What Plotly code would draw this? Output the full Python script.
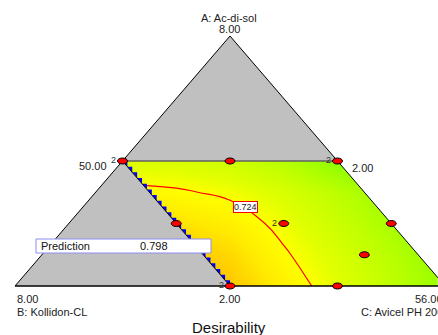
import numpy as np
import plotly.graph_objects as go

# ---------------- data ----------------
comp_names = ["A: Ac-di-sol", "B: Kollidon-CL", "C: Avicel PH 200"]
total = 60.0
lows = [2.0, 2.0, 50.0]          # lower bounds of A, B, C
span = 6.0                       # pseudo-component span

# design points (actual amounts)
pt_A = [5.0, 5.0, 5.0, 3.5, 3.5, 3.5, 2.75, 2.0, 2.0, 2.0]
pt_B = [5.0, 3.5, 2.0, 5.0, 3.5, 2.0, 2.75, 5.0, 3.5, 2.0]
pt_C = [50.0, 51.5, 53.0, 51.5, 53.0, 54.5, 54.5, 53.0, 54.5, 56.0]
pt_reps = [2, 1, 2, 1, 2, 1, 1, 2, 1, 2]

# design-region constraints (actual amounts): A <= 5, B <= 5
A_max = 5.0
B_max = 5.0

# desirability on a grid (x = C + A/2 in pseudo units, y = A pseudo)
grid_x = [0.25, 0.375, 0.5, 0.625, 0.75, 0.875, 1.0]
grid_y = [0.0, 0.125, 0.25, 0.375, 0.5]
desir = [
    [0.85, 0.83, 0.80, 0.75, 0.70, 0.65, 0.60],
    [0.82, 0.80, 0.78, 0.73, 0.685, 0.64, 0.59],
    [0.78, 0.77, 0.75, 0.71, 0.665, 0.62, 0.575],
    [0.735, 0.73, 0.715, 0.685, 0.645, 0.60, 0.56],
    [0.69, 0.685, 0.67, 0.64, 0.585, 0.55, 0.52],
]
contour_level = 0.724
prediction_label = "Prediction"
prediction_value = 0.798
title = "Desirability"

# ---------------- helpers ----------------
W, H = 438, 335


def to_xy(A, B, C):
    a = (np.asarray(A) - lows[0]) / span
    c = (np.asarray(C) - lows[2]) / span
    return c + a / 2.0, a


def pseudo_xy(a, b, c):
    return c + a / 2.0, a


def pp(px, py):
    return px / W, 1 - py / H


FONT = "Arial, Liberation Sans, sans-serif"

# vertices
ax_, ay_ = pseudo_xy(1, 0, 0)
bx_, by_ = pseudo_xy(0, 1, 0)
cx_, cy_ = pseudo_xy(0, 0, 1)
aA = (A_max - lows[0]) / span
bB = (B_max - lows[1]) / span
r1 = pseudo_xy(aA, bB, 1 - aA - bB)       # top-left of region
r2 = pseudo_xy(aA, 0, 1 - aA)             # top-right of region
r3 = pseudo_xy(0, 0, 1)                   # bottom-right
r4 = pseudo_xy(0, bB, 1 - bB)             # bottom-left of region

fig = go.Figure()

colorscale = [
    [0.0, "#70FF00"], [0.1667, "#98FF00"], [0.333, "#C0FF00"], [0.5, "#E4FF00"],
    [0.58, "#FFFF00"], [0.70, "#FFEA00"], [0.833, "#FFC600"], [1.0, "#FFA800"],
]
fig.add_trace(go.Heatmap(x=grid_x, y=grid_y, z=desir, zsmooth="best", zmin=0.55, zmax=0.85,
                         colorscale=colorscale, showscale=False, hoverinfo="skip"))
fig.add_trace(go.Contour(x=grid_x, y=grid_y, z=desir,
                         contours=dict(start=contour_level, end=contour_level, size=1, coloring="none"),
                         line=dict(color="red", width=1.2, smoothing=1.3),
                         showscale=False, hoverinfo="skip"))

# blue staircase along the B-constraint edge
N = 22
ex = np.linspace(r1[0], r4[0], N + 1)
ey = np.linspace(r1[1], r4[1], N + 1)
sx, sy = [], []
for i in range(N):
    sx += [ex[i], ex[i + 1], ex[i + 1], ex[i], None]
    sy += [ey[i], ey[i], ey[i + 1], ey[i], None]
fig.add_trace(go.Scatter(x=sx, y=sy, mode="lines", fill="toself", fillcolor="#0000FF",
                         line=dict(width=0), hoverinfo="skip", showlegend=False))

# white masks outside the triangle
far = 2.0
masks = [
    ([-far, far, far, -far, -far], [-far, -far, 0, 0, -far]),
    ([-far, bx_, ax_, ax_, -far, -far], [0, 0, ay_, far, far, 0]),
    ([far, cx_, ax_, ax_, far, far], [0, 0, ay_, far, far, 0]),
]
for mx, my in masks:
    fig.add_trace(go.Scatter(x=mx, y=my, mode="lines", fill="toself", fillcolor="white",
                             line=dict(width=0), hoverinfo="skip", showlegend=False))

# gray non-feasible zones
gray = "#C0C0C0"
fig.add_trace(go.Scatter(x=[ax_, r1[0], r2[0], ax_], y=[ay_, r1[1], r2[1], ay_], mode="lines",
                         fill="toself", fillcolor=gray, line=dict(width=0), hoverinfo="skip", showlegend=False))
fig.add_trace(go.Scatter(x=[bx_, r1[0], r4[0], bx_], y=[by_, r1[1], r4[1], by_], mode="lines",
                         fill="toself", fillcolor=gray, line=dict(width=0), hoverinfo="skip", showlegend=False))

# edges
fig.add_trace(go.Scatter(x=[bx_, ax_, cx_], y=[by_, ay_, cy_], mode="lines",
                         line=dict(color="black", width=1), hoverinfo="skip", showlegend=False))
fig.add_trace(go.Scatter(x=[bx_, cx_], y=[by_, cy_], mode="lines",
                         line=dict(color="black", width=1.5), hoverinfo="skip", showlegend=False))
fig.add_trace(go.Scatter(x=[r1[0], r2[0]], y=[r1[1], r2[1]], mode="lines",
                         line=dict(color="#606060", width=1.5), hoverinfo="skip", showlegend=False))
fig.add_trace(go.Scatter(x=[r1[0], r4[0]], y=[r1[1], r4[1]], mode="lines",
                         line=dict(color="black", width=1), hoverinfo="skip", showlegend=False))

# design points as ellipses
px_, py_ = to_xy(pt_A, pt_B, pt_C)
shapes = []
annotations = []
for x, y, r in zip(px_, py_, pt_reps):
    shapes.append(dict(type="circle", xref="x", yref="y", xsizemode="pixel", ysizemode="pixel",
                       xanchor=x, yanchor=y, x0=-5, x1=5, y0=-3, y1=3,
                       fillcolor="#FF0000", line=dict(color="black", width=1)))
    if r > 1:
        annotations.append(dict(x=x, y=y, xref="x", yref="y", text=str(r), showarrow=False,
                                xshift=-9, yshift=1, font=dict(family=FONT, size=9, color="#333333")))

# prediction box
shapes.append(dict(type="rect", xref="paper", yref="paper",
                   x0=36 / W, x1=211 / W, y0=1 - 253 / H, y1=1 - 239 / H,
                   fillcolor="white", line=dict(color="#8C8CF0", width=1)))


def txt(px, py, s, size=11, anchor="center", color="#222222"):
    x, y = pp(px, py)
    annotations.append(dict(x=x, y=y, xref="paper", yref="paper", text=s, showarrow=False,
                            xanchor=anchor, yanchor="middle", font=dict(family=FONT, size=size, color=color)))


txt(229, 17.5, comp_names[0])
txt(229, 29, f"{lows[0] + span:.2f}")
txt(109, 166, f"{lows[2]:.2f}", anchor="right")
txt(350, 168, f"{lows[1]:.2f}", anchor="left")
txt(15, 299, f"{lows[1] + span:.2f}", anchor="left")
txt(15, 312, comp_names[1], anchor="left")
txt(229, 299, f"{lows[0]:.2f}")
txt(445, 299, f"{lows[2] + span:.2f}", anchor="right")
txt(445, 312, comp_names[2], anchor="right")
txt(229, 327, title, size=15, color="#111111")
txt(39, 246, prediction_label, anchor="left", color="#111111")
txt(138, 246, f"{prediction_value:.3f}", anchor="left", color="#111111")

cx0, cy0 = pp(245.5, 206.5)
annotations.append(dict(x=cx0, y=cy0, xref="paper", yref="paper", text=f"{contour_level:.3f}",
                        showarrow=False, bgcolor="white", bordercolor="red", borderwidth=1, borderpad=0,
                        font=dict(family=FONT, size=9, color="#222222")))

fig.update_layout(
    width=W, height=H, margin=dict(l=0, r=0, t=0, b=0),
    paper_bgcolor="white", plot_bgcolor="white", showlegend=False,
    xaxis=dict(range=[-15 / 430, 423 / 430], visible=False, fixedrange=True),
    yaxis=dict(range=[(286 - 335) / 250, 286 / 250], visible=False, fixedrange=True),
    shapes=shapes, annotations=annotations,
)
fig.write_html("out.html", config={"displayModeBar": False},
               post_script="document.body.style.margin='0';document.body.style.overflow='hidden';")
